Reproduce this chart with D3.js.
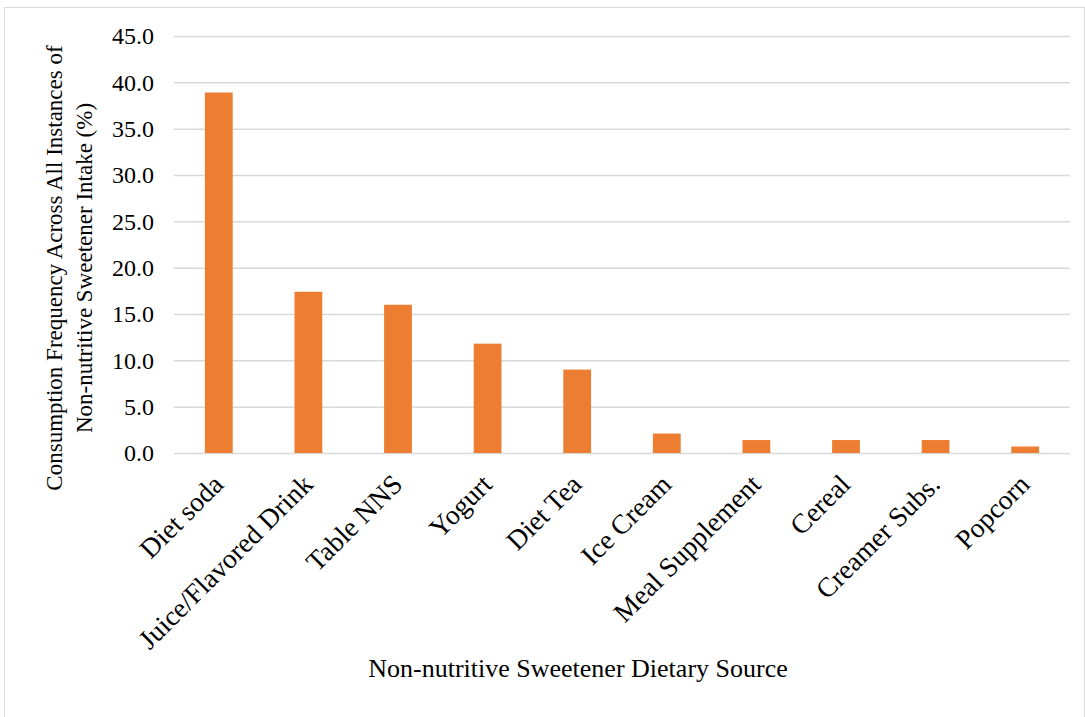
<!DOCTYPE html>
<html>
<head>
<meta charset="utf-8">
<script src="https://cdn.jsdelivr.net/npm/d3@7"></script>
<style>
  body { margin: 0; background: #fff; }
  svg { display: block; }
</style>
</head>
<body>
<div id="chart"></div>
<script>
// 数据
const categories = ["Diet soda", "Juice/Flavored Drink", "Table NNS", "Yogurt", "Diet Tea",
    "Ice Cream", "Meal Supplement", "Cereal", "Creamer Subs.", "Popcorn"];
const values = [38.9, 17.4, 16.0, 11.8, 9.0, 2.1, 1.4, 1.4, 1.4, 0.7];
const yTicks = [0, 5, 10, 15, 20, 25, 30, 35, 40, 45];

const FONT = '"Liberation Serif", "Times New Roman", serif';
const width = 1085, height = 717;
const margin = {top: 36, right: 15, bottom: 264, left: 174};

let svg = d3.select("#chart").append("svg")
    .attr("width", width)
    .attr("height", height)
    .style("font-family", FONT);

// 外框
svg.append("rect")
    .attr("x", 4.5).attr("y", 7.5)
    .attr("width", width - 5).attr("height", height)
    .attr("fill", "none")
    .attr("stroke", "#d9d9d9")
    .attr("stroke-width", 1);

let x = d3.scaleBand()
    .domain(categories)
    .range([margin.left, width - margin.right])
    .paddingInner(0.69)
    .paddingOuter(0.345);

let y = d3.scaleLinear()
    .domain([0, 45])
    .range([height - margin.bottom, margin.top]);

// 网格线 + y轴
let yAxis = d3.axisLeft(y)
    .tickValues(yTicks)
    .tickFormat(d3.format(".1f"))
    .tickSize(-(width - margin.left - margin.right))
    .tickPadding(20);

let gy = svg.append("g")
    .attr("transform", "translate(" + margin.left + ",0)")
    .call(yAxis)
    .attr("font-family", FONT);
gy.select(".domain").remove();
gy.selectAll(".tick line").attr("stroke", "#d9d9d9").attr("stroke-width", 1.5);
gy.selectAll(".tick text")
    .attr("font-size", 24)
    .attr("fill", "#000");

// 柱
svg.append("g").selectAll("rect")
    .data(values)
    .enter().append("rect")
    .attr("x", (d, i) => x(categories[i]))
    .attr("y", d => y(d))
    .attr("width", x.bandwidth())
    .attr("height", d => y(0) - y(d))
    .attr("fill", "#ED7D31");

// x轴
let xAxis = d3.axisBottom(x).tickSize(0).tickPadding(0);
let gx = svg.append("g")
    .attr("transform", "translate(0," + y(0) + ")")
    .call(xAxis)
    .attr("font-family", FONT);
gx.select(".domain").remove();
gx.selectAll(".tick text")
    .attr("font-size", 27.5)
    .attr("fill", "#000")
    .attr("text-anchor", "end")
    .attr("y", 0)
    .attr("dy", 0)
    .attr("transform", "translate(6,33) rotate(-45)");

// 轴标题
svg.append("text")
    .attr("x", 578).attr("y", 677)
    .attr("text-anchor", "middle")
    .attr("font-size", 26)
    .text("Non-nutritive Sweetener Dietary Source");

let yTitle = svg.append("text")
    .attr("transform", "translate(62,268) rotate(-90)")
    .attr("text-anchor", "middle")
    .attr("font-size", 23);
yTitle.append("tspan").attr("x", 0).attr("dy", 0)
    .text("Consumption Frequency Across All Instances of");
yTitle.append("tspan").attr("x", 0).attr("dy", 30)
    .text("Non-nutritive Sweetener Intake (%)");
</script>
</body>
</html>
